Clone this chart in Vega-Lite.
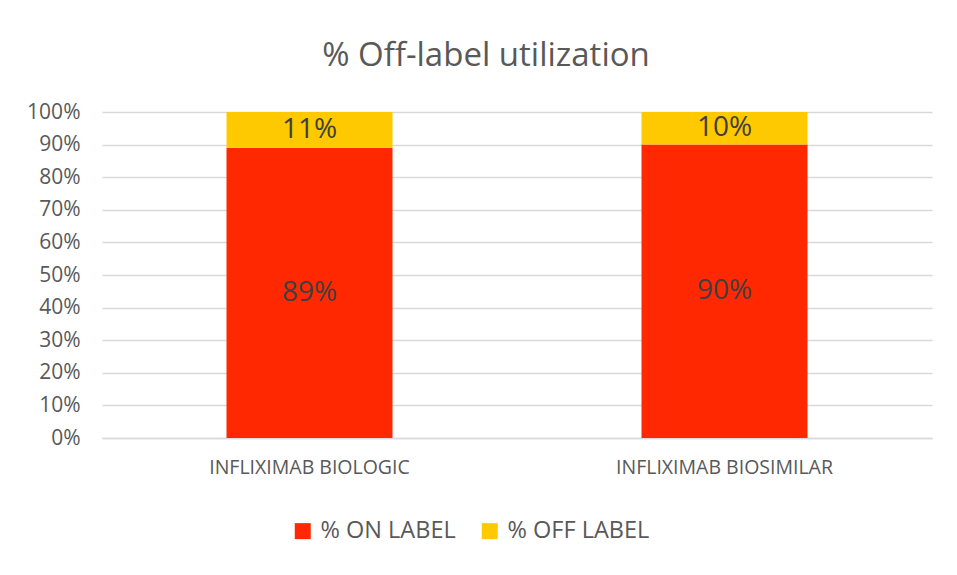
{
  "$schema": "https://vega.github.io/schema/vega-lite/v6.json",
  "width": 830,
  "height": 326,
  "autosize": {"type": "none"},
  "padding": {"left": 102, "top": 112, "right": 25, "bottom": 137},
  "background": "white",
  "config": {"view": {"stroke": null}},
  "title": {
    "text": "% Off-label utilization",
    "fontSize": 33,
    "font": "Open Sans",
    "fontWeight": "normal",
    "color": "#595959",
    "anchor": "middle",
    "dx": -31,
    "offset": 28
  },
  "data": {
    "values": [
      {"drug": "INFLIXIMAB BIOLOGIC", "type": "% ON LABEL", "order": 1, "value": 89, "label": "89%"},
      {"drug": "INFLIXIMAB BIOLOGIC", "type": "% OFF LABEL", "order": 2, "value": 11, "label": "11%"},
      {"drug": "INFLIXIMAB BIOSIMILAR", "type": "% ON LABEL", "order": 1, "value": 90, "label": "90%"},
      {"drug": "INFLIXIMAB BIOSIMILAR", "type": "% OFF LABEL", "order": 2, "value": 10, "label": "10%"}
    ]
  },
  "transform": [
    {"stack": "value", "groupby": ["drug"], "sort": [{"field": "order"}], "as": ["v0", "v1"]},
    {"calculate": "(datum.v0 + datum.v1) / 2", "as": "mid"}
  ],
  "encoding": {
    "x": {
      "field": "drug",
      "type": "nominal",
      "sort": null,
      "scale": {"paddingInner": 0, "paddingOuter": 0},
      "axis": {
        "title": null,
        "labelAngle": 0,
        "labelFont": "Open Sans",
        "labelFontSize": 19.5,
        "labelColor": "#595959",
        "labelPadding": 20,
        "labelLimit": 400,
        "ticks": false,
        "domainColor": "#d9d9d9",
        "domainWidth": 1.5
      }
    }
  },
  "layer": [
    {
      "mark": {"type": "bar", "width": {"band": 0.4}},
      "encoding": {
        "y": {
          "field": "v0",
          "type": "quantitative",
          "scale": {"domain": [0, 100]},
          "axis": {
            "title": null,
            "values": [0, 10, 20, 30, 40, 50, 60, 70, 80, 90, 100],
            "labelOverlap": false,
            "labelExpr": "datum.value + '%'",
            "labelFont": "Open Sans",
            "labelFontSize": 21,
            "labelColor": "#595959",
            "labelPadding": 22,
            "ticks": false,
            "domain": false,
            "gridColor": "#d9d9d9",
            "gridWidth": 1.3
          }
        },
        "y2": {"field": "v1"},
        "color": {
          "field": "type",
          "type": "nominal",
          "sort": ["% ON LABEL", "% OFF LABEL"],
          "scale": {"domain": ["% ON LABEL", "% OFF LABEL"], "range": ["#FF2800", "#FFC900"]},
          "legend": {
            "title": null,
            "orient": "none",
            "direction": "horizontal",
            "legendX": 189,
            "legendY": 407,
            "symbolType": "square",
            "symbolSize": 256,
            "symbolStrokeWidth": 0,
            "labelFont": "Open Sans",
            "labelFontSize": 23.5,
            "labelColor": "#595959",
            "labelOffset": 6,
            "labelLimit": 300,
            "columnPadding": 22
          }
        }
      }
    },
    {
      "mark": {"type": "text", "font": "Open Sans", "fontSize": 28, "color": "#404040", "baseline": "middle"},
      "encoding": {
        "y": {
          "field": "mid",
          "type": "quantitative",
          "scale": {"domain": [0, 100]},
          "axis": {
            "title": null,
            "values": [0, 10, 20, 30, 40, 50, 60, 70, 80, 90, 100],
            "labelOverlap": false,
            "labelExpr": "datum.value + '%'",
            "labelFont": "Open Sans",
            "labelFontSize": 21,
            "labelColor": "#595959",
            "labelPadding": 22,
            "ticks": false,
            "domain": false,
            "gridColor": "#d9d9d9",
            "gridWidth": 1.3
          }
        },
        "text": {"field": "label", "type": "nominal"}
      }
    }
  ]
}
